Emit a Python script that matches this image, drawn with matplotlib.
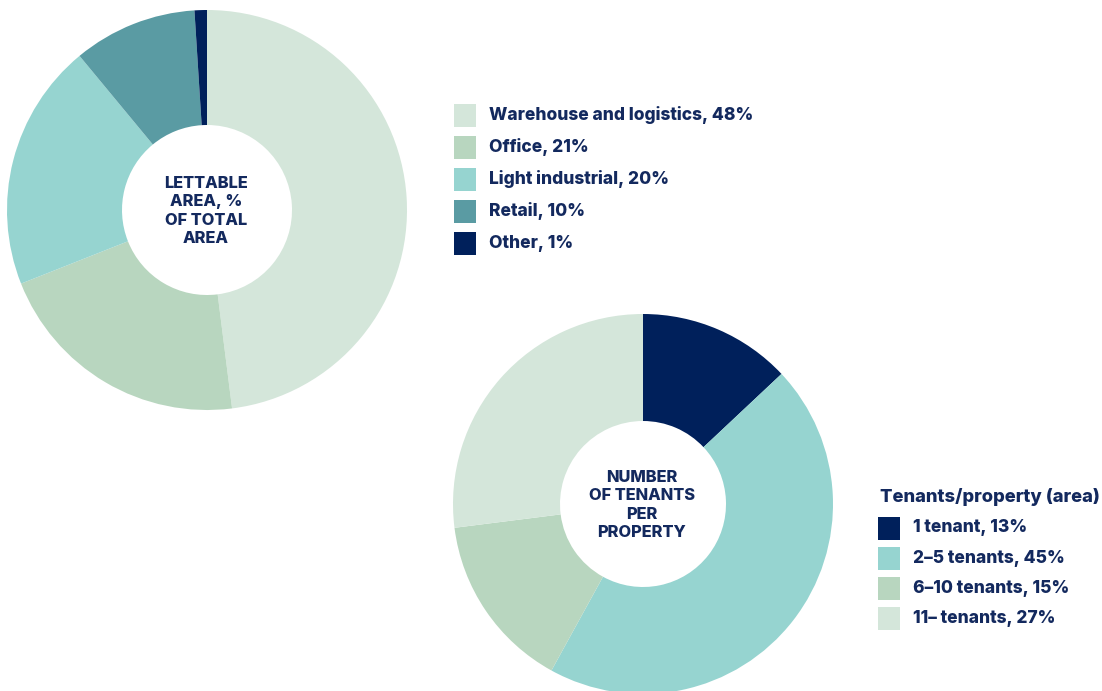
import matplotlib.pyplot as plt
from matplotlib.patches import Rectangle

# Lettable area by property type
area_labels = ['Warehouse and logistics', 'Office', 'Light industrial', 'Retail', 'Other']
area_values = [48, 21, 20, 10, 1]
area_colors = ['#d4e6da', '#b8d6bf', '#96d4d0', '#5a9ba3', '#00205b']

# Tenants per property (by area)
tenant_labels = ['1 tenant', '2\u20135 tenants', '6\u201310 tenants', '11\u2013 tenants']
tenant_values = [13, 45, 15, 27]
tenant_colors = ['#00205b', '#96d4d0', '#b8d6bf', '#d4e6da']

text_color = '#13295e'
plt.rcParams['font.family'] = ['Inter', 'DejaVu Sans']
WEIGHT = 'heavy'

W, H = 1102, 691
fig = plt.figure(figsize=(W / 100, H / 100), dpi=100)
ax = fig.add_axes([0, 0, 1, 1])


def donut(values, colors, cx, cy, r, r_in):
    ax.pie(values, colors=colors, center=(cx, H - cy), radius=r,
           startangle=90, counterclock=False,
           wedgeprops=dict(width=r - r_in, linewidth=0))


def legend(labels, values, colors, x, y0, step, title=None, title_y=None):
    if title:
        ax.text(x + 2, H - title_y, title, fontsize=13.2, fontweight=WEIGHT,
                color=text_color, va='center', ha='left')
    for i, (lab, val, col) in enumerate(zip(labels, values, colors)):
        yc = y0 + i * step
        ax.add_patch(Rectangle((x, H - yc - 11.5), 22, 23, color=col, lw=0))
        ax.text(x + 35, H - yc, f'{lab}, {val}%', fontsize=12.5, fontweight=WEIGHT,
                color=text_color, va='center', ha='left')


donut(area_values, area_colors, 207, 210, 200, 85)
donut(tenant_values, tenant_colors, 643, 504, 190, 83)

# pie() resets the limits, so set them afterwards
ax.set_xlim(0, W)
ax.set_ylim(0, H)
ax.set_aspect('equal')
ax.axis('off')

ax.text(206, H - 211, 'LETTABLE\nAREA, %\nOF TOTAL\nAREA', fontsize=11.8,
        fontweight=WEIGHT, color=text_color, ha='center', va='center',
        linespacing=1.3)
ax.text(642, H - 505, 'NUMBER\nOF TENANTS\nPER\nPROPERTY', fontsize=11.8,
        fontweight=WEIGHT, color=text_color, ha='center', va='center',
        linespacing=1.3)

legend(area_labels, area_values, area_colors, 454, 115, 32)
legend(tenant_labels, tenant_values, tenant_colors, 878, 528, 30.3,
       title='Tenants/property (area)', title_y=497)

fig.savefig('out.png', dpi=100)
